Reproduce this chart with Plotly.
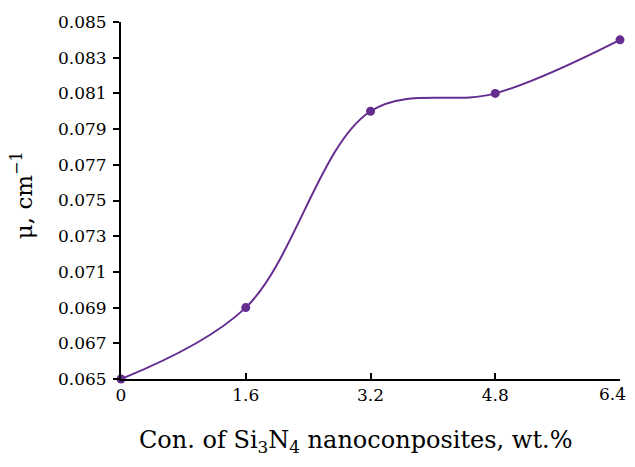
import plotly.graph_objects as go

x_vals = [0, 1.6, 3.2, 4.8, 6.4]
mu_vals = [0.065, 0.069, 0.080, 0.081, 0.084]
x_ticks = [0, 1.6, 3.2, 4.8, 6.4]
x_ticklabels = ["0", "1.6", "3.2", "4.8", "6.4"]
y_ticks = [0.065, 0.067, 0.069, 0.071, 0.073, 0.075, 0.077, 0.079, 0.081, 0.083, 0.085]
y_ticklabels = ["0.065", "0.067", "0.069", "0.071", "0.073", "0.075", "0.077", "0.079", "0.081", "0.083", "0.085"]
x_title = "Con. of Si<sub>3</sub>N<sub>4</sub> nanoconposites, wt.%"
y_title = "μ, cm<sup>−1</sup>"

color = "#662d91"
font_family = "DejaVu Serif, serif"

fig = go.Figure(go.Scatter(
    x=x_vals, y=mu_vals, mode="lines+markers",
    line=dict(color=color, width=2, shape="spline", smoothing=1.0),
    marker=dict(color=color, size=9),
    cliponaxis=False,
))

fig.update_layout(
    width=627, height=451,
    margin=dict(l=113, r=15, t=14, b=80, autoexpand=False),
    plot_bgcolor="white", paper_bgcolor="white",
    showlegend=False,
    font=dict(family=font_family, size=17, color="black"),
)
# last tick label is drawn as an annotation so it stays fully inside the window
fig.update_xaxes(
    range=[0, 6.4], tickvals=x_ticks, ticktext=x_ticklabels[:-1] + [""],
    showline=True, linecolor="black", linewidth=2,
    ticks="inside", ticklen=6, tickwidth=2, tickcolor="black",
    showgrid=False, zeroline=False, automargin=False,
)
fig.update_yaxes(
    range=[0.065, 0.085], tickvals=y_ticks, ticktext=y_ticklabels,
    showline=True, linecolor="black", linewidth=2,
    ticks="outside", ticklen=6, tickwidth=2, tickcolor="black",
    ticklabelstandoff=3,
    showgrid=False, zeroline=False, automargin=False,
)
fig.add_annotation(
    text=x_ticklabels[-1], xref="x", yref="paper", x=x_ticks[-1], y=0,
    xanchor="right", yanchor="middle", xshift=8, yshift=-15, showarrow=False,
    font=dict(size=17),
)
fig.add_annotation(
    text=x_title, xref="paper", yref="paper", x=0.469, y=0,
    xanchor="center", yanchor="middle", yshift=-62, showarrow=False,
    font=dict(size=24),
)
fig.add_annotation(
    text=y_title, xref="paper", yref="paper", x=0, y=0.515,
    xanchor="center", yanchor="middle", xshift=-99, textangle=-90, showarrow=False,
    font=dict(size=23),
)

fig.write_html("out.html")
